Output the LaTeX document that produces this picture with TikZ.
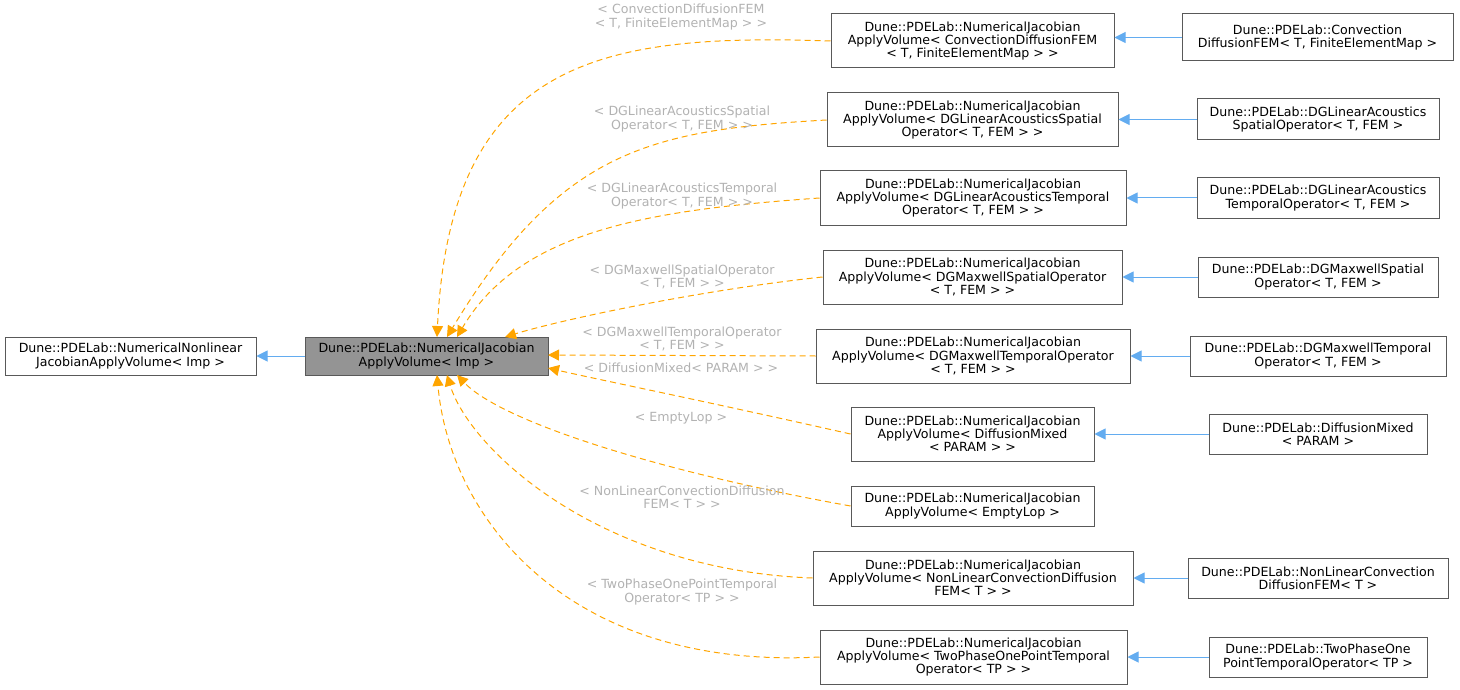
\documentclass[tikz,border=0pt]{standalone}
\usepackage{fontspec}
\setmainfont{DejaVu Sans}
\usetikzlibrary{arrows.meta}
\definecolor{blu}{RGB}{99,172,240}
\definecolor{org}{RGB}{255,165,0}
\begin{document}
\begin{tikzpicture}[x=1pt,y=-1pt,line width=1pt,
 box/.style={draw=black!65,fill=white,align=center,font=\fontsize{12.6}{13.2}\selectfont,inner sep=0pt},
 inh/.style={draw=blu,-{Triangle[open,length=11pt,width=11pt,fill=blu]}},
 tmpl/.style={draw=org,dash pattern=on 6pt off 4pt,-{Triangle[length=11pt,width=11pt,fill=org]}},
 lab/.style={text=black!30,align=center,font=\fontsize{12.6}{13.2}\selectfont}]
\useasboundingbox (0,0) rectangle (1460,690);
\node[box,minimum width=251,minimum height=38] (L) at (130.5,356) {Dune::PDELab::NumericalNonlinear\\JacobianApplyVolume< Imp >};
\node[box,fill=black!42,minimum width=243,minimum height=38] (C) at (426.5,356) {Dune::PDELab::NumericalJacobian\\ApplyVolume< Imp >};
\node[box,minimum width=283,minimum height=54] (m1) at (972.5,41) {Dune::PDELab::NumericalJacobian\\ApplyVolume< ConvectionDiffusionFEM\\< T, FiniteElementMap > >};
\node[box,minimum width=291,minimum height=54] (m2) at (972.5,120) {Dune::PDELab::NumericalJacobian\\ApplyVolume< DGLinearAcousticsSpatial\\Operator< T, FEM > >};
\node[box,minimum width=306,minimum height=54] (m3) at (973,198) {Dune::PDELab::NumericalJacobian\\ApplyVolume< DGLinearAcousticsTemporal\\Operator< T, FEM > >};
\node[box,minimum width=299,minimum height=54] (m4) at (972.5,277) {Dune::PDELab::NumericalJacobian\\ApplyVolume< DGMaxwellSpatialOperator\\< T, FEM > >};
\node[box,minimum width=314,minimum height=54] (m5) at (973,356) {Dune::PDELab::NumericalJacobian\\ApplyVolume< DGMaxwellTemporalOperator\\< T, FEM > >};
\node[box,minimum width=243,minimum height=54] (m6) at (972.5,434) {Dune::PDELab::NumericalJacobian\\ApplyVolume< DiffusionMixed\\< PARAM > >};
\node[box,minimum width=243,minimum height=40] (m7) at (972.5,506) {Dune::PDELab::NumericalJacobian\\ApplyVolume< EmptyLop >};
\node[box,minimum width=320,minimum height=54] (m8) at (973,578) {Dune::PDELab::NumericalJacobian\\ApplyVolume< NonLinearConvectionDiffusion\\FEM< T > >};
\node[box,minimum width=307,minimum height=54] (m9) at (973.5,657) {Dune::PDELab::NumericalJacobian\\ApplyVolume< TwoPhaseOnePointTemporal\\Operator< TP > >};
\node[box,minimum width=271,minimum height=47] (r1) at (1317.5,37.5) {Dune::PDELab::Convection\\DiffusionFEM< T, FiniteElementMap >};
\node[box,minimum width=242,minimum height=41] (r2) at (1318,119.5) {Dune::PDELab::DGLinearAcoustics\\SpatialOperator< T, FEM >};
\node[box,minimum width=242,minimum height=40] (r3) at (1318,198) {Dune::PDELab::DGLinearAcoustics\\TemporalOperator< T, FEM >};
\node[box,minimum width=240,minimum height=40] (r4) at (1318,277) {Dune::PDELab::DGMaxwellSpatial\\Operator< T, FEM >};
\node[box,minimum width=256,minimum height=40] (r5) at (1318,356) {Dune::PDELab::DGMaxwellTemporal\\Operator< T, FEM >};
\node[box,minimum width=218,minimum height=40] (r6) at (1318,434) {Dune::PDELab::DiffusionMixed\\< PARAM >};
\node[box,minimum width=260,minimum height=40] (r8) at (1318,578) {Dune::PDELab::NonLinearConvection\\DiffusionFEM< T >};
\node[box,minimum width=218,minimum height=40] (r9) at (1318,657) {Dune::PDELab::TwoPhaseOne\\PointTemporalOperator< TP >};
\draw[inh] (C) -- (L);
\foreach \i in {1,2,3,4,5,6,8,9}{\draw[inh] (r\i.west) -- (r\i.west -| m\i.east);}
\coordinate (e1) at (437,337); \coordinate (e2) at (447,337); \coordinate (e3) at (457,337); \coordinate (e4) at (505,337);
\coordinate (e5) at (548,355); \coordinate (e6) at (548,368); \coordinate (e7) at (457,375); \coordinate (e8) at (447,375); \coordinate (e9) at (437,375);
\draw[tmpl] (m1.west) .. controls (600,33) and (450,60) .. (e1);
\draw[tmpl] (m2.west) .. controls (650,130) and (560,150) .. (e2);
\draw[tmpl] (m3.west) .. controls (650,210) and (520,230) .. (e3);
\draw[tmpl] (m4.west) .. controls (700,290) and (560,320) .. (e4);
\draw[tmpl] (m5.west) -- (e5);
\draw[tmpl] (m6.west) .. controls (700,400) and (600,380) .. (e6);
\draw[tmpl] (m7.west) .. controls (650,470) and (500,420) .. (e7);
\draw[tmpl] (m8.west) .. controls (600,570) and (470,450) .. (e8);
\draw[tmpl] (m9.west) .. controls (570,670) and (450,520) .. (e9);
\node[lab] (l1) at (681,17) {< ConvectionDiffusionFEM\\< T, FiniteElementMap > >};
\node[lab] (l2) at (682,119) {< DGLinearAcousticsSpatial\\Operator< T, FEM > >};
\node[lab] (l3) at (682,196) {< DGLinearAcousticsTemporal\\Operator< T, FEM > >};
\node[lab] (l4) at (682,277) {< DGMaxwellSpatialOperator\\< T, FEM > >};
\node[lab] (l5) at (682,339) {< DGMaxwellTemporalOperator\\< T, FEM > >};
\node[lab] (l6) at (681,368) {< DiffusionMixed< PARAM > >};
\node[lab] (l7) at (681,418) {< EmptyLop >};
\node[lab] (l8) at (682,497) {< NonLinearConvectionDiffusion\\FEM< T > >};
\node[lab] (l9) at (682,592) {< TwoPhaseOnePointTemporal\\Operator< TP > >};
\end{tikzpicture}
\end{document}
